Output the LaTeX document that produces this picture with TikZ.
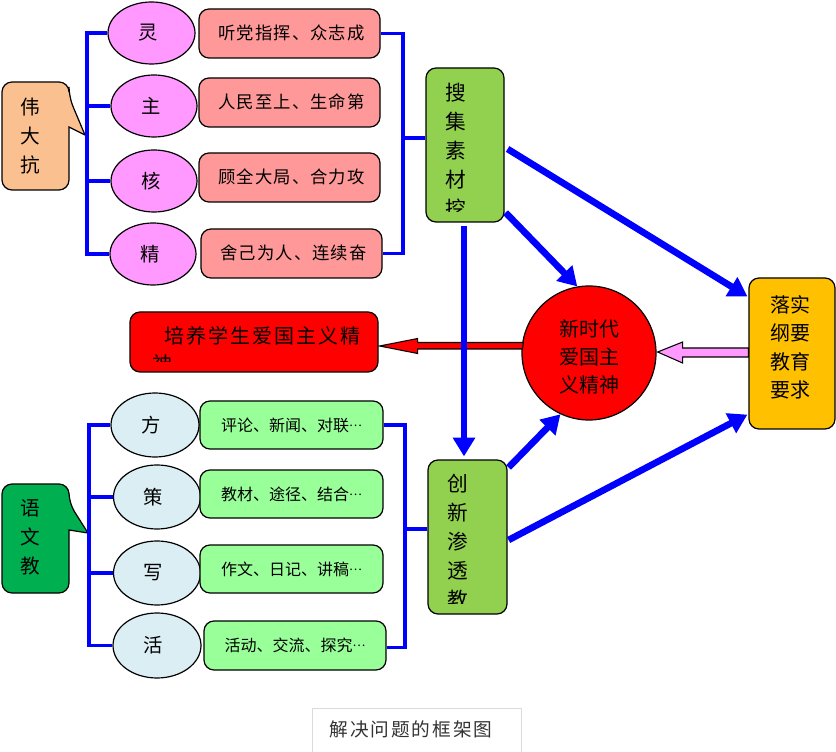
\documentclass[tikz,border=0pt]{standalone}
\usepackage{fontspec}
\newfontfamily\cjk{Noto Sans CJK SC}
\newfontfamily\cjkwide{Noto Sans CJK SC}[LetterSpace=6]
\newfontfamily\cjkmid{Noto Sans CJK SC}[LetterSpace=10]
\usetikzlibrary{arrows.meta,calc,shapes.geometric}
\definecolor{peach}{HTML}{FAC090}
\definecolor{violetE}{HTML}{FF99FF}
\definecolor{pinkB}{HTML}{FF9999}
\definecolor{greenB}{HTML}{92D050}
\definecolor{redC}{HTML}{FF0000}
\definecolor{yellowB}{HTML}{FFC000}
\definecolor{blueE}{HTML}{DAEEF3}
\definecolor{lgreenB}{HTML}{99FF99}
\definecolor{dgreen}{HTML}{00B050}
\definecolor{blueL}{HTML}{0000FF}
\definecolor{capgray}{HTML}{DADADA}
\definecolor{captext}{HTML}{333333}
\newcommand\middots{\raisebox{0.3em}{\fontsize{9pt}{9pt}\selectfont …}}
\begin{document}
\begin{tikzpicture}[x=0.75pt,y=-0.75pt,
  sz/.style 2 args={minimum width=#1*0.75pt, minimum height=#2*0.75pt, inner sep=0pt},
  rbox/.style={draw=black, line width=0.9pt, rounded corners=7.5pt},
  ell/.style={ellipse, draw=black, line width=0.9pt, inner sep=0pt},
  brk/.style={draw=blueL, line width=2.4pt},
  barr/.style={draw=blueL, line width=5pt, -{Triangle[length=14pt,width=16pt]}},
  blockarr/.style={draw=black, line width=0.8pt, line join=miter},
  tEll/.style={font=\cjk\fontsize{14.5pt}{16pt}\selectfont},
  tUp/.style={font=\cjkwide\fontsize{13pt}{15pt}\selectfont},
  tLow/.style={font=\cjk\fontsize{12pt}{14pt}\selectfont},
  tCall/.style={font=\cjk\fontsize{14.75pt}{21.75pt}\selectfont, align=center},
  tVert/.style={font=\cjk\fontsize{15.5pt}{21.75pt}\selectfont, align=center},
  tCirc/.style={font=\cjk\fontsize{15pt}{21pt}\selectfont, align=center},
  tYel/.style={font=\cjk\fontsize{15pt}{21.25pt}\selectfont, align=center},
  tBig/.style={font=\cjkmid\fontsize{15pt}{18pt}\selectfont}
]
\useasboundingbox (0,0) rectangle (836,752);

% ---------- upper group ----------
\path[draw=black, line width=0.9pt, fill=peach, rounded corners=7.5pt]
  (35,82) -- (69,82) -- (69,97) [sharp corners] -- (85,135) -- (69,127)
  [rounded corners=7.5pt] -- (69,190) -- (2,190) -- (2,82) -- cycle;
\node[tCall] (wei) at (30,136) {伟\\大\\抗};

\node[ell, fill=violetE, sz={87}{62}] (e1) at (151.5,33) {};
\node[ell, fill=violetE, sz={86}{62}] (e2) at (154,106) {};
\node[ell, fill=violetE, sz={86}{62}] (e3) at (154,181) {};
\node[ell, fill=violetE, sz={86}{62}] (e4) at (153,254) {};
\node[tEll] (e1t) at ($(e1)+(-3,0)$) {灵};
\node[tEll] (e2t) at ($(e2)+(-3,0)$) {主};
\node[tEll] (e3t) at ($(e3)+(-3,0)$) {核};
\node[tEll] (e4t) at ($(e4)+(-3,0)$) {精};

\node[rbox, fill=pinkB, sz={181}{49}] (p1) at (289.5,33.5) {};
\node[rbox, fill=pinkB, sz={181}{49}] (p2) at (289.5,102.5) {};
\node[rbox, fill=pinkB, sz={181}{49}] (p3) at (289.5,177.5) {};
\node[rbox, fill=pinkB, sz={181}{49}] (p4) at (291.5,253.5) {};
\node[tUp] (p1t) at ($(p1)+(2,-1)$) {听党指挥、众志成};
\node[tUp] (p2t) at ($(p2)+(2,-1)$) {人民至上、生命第};
\node[tUp] (p3t) at ($(p3)+(2,-1)$) {顾全大局、合力攻};
\node[tUp] (p4t) at ($(p4)+(2,-1)$) {舍己为人、连续奋};

\coordinate (lb1) at (87,0);
\draw[brk] (e1.west) -- (e1.west -| lb1) -- (e4.west -| lb1) -- (e4.west);
\draw[brk] (e2.west) -- (e2.west -| lb1);
\draw[brk] (e3.west) -- (e3.west -| lb1);

\node[rbox, fill=greenB, sz={78}{154}] (g1) at (465,145) {};
\begin{scope}
  \clip (g1.north west) rectangle ($(g1.south east)+(0,-11)$);
  \node[tVert] (g1t) at (456,151) {搜\\集\\素\\材\\挖};
\end{scope}

\coordinate (rb1) at (403,0);
\draw[brk] (p1.east) -- (p1.east -| rb1) -- (p4.east -| rb1) -- (p4.east);
\draw[brk] ($(g1.west)+(0,-7)$) -- ($(g1.west -| rb1)+(0,-7)$);

% ---------- lower group ----------
\path[draw=black, line width=0.9pt, fill=dgreen, rounded corners=7.5pt]
  (35,484) -- (69,484) -- (69,503) [sharp corners] -- (88,533) -- (69,530)
  [rounded corners=7.5pt] -- (69,593) -- (2,593) -- (2,484) -- cycle;
\node[tCall] (yu) at (30,537) {语\\文\\教};

\node[ell, fill=blueE, sz={88}{64}] (f1) at (155,425) {};
\node[ell, fill=blueE, sz={87}{64}] (f2) at (157,497) {};
\node[ell, fill=blueE, sz={87}{64}] (f3) at (157,573) {};
\node[ell, fill=blueE, sz={88}{65}] (f4) at (157,645.5) {};
\node[tEll] (f1t) at ($(f1)+(-4,0)$) {方};
\node[tEll] (f2t) at ($(f2)+(-4,0)$) {策};
\node[tEll] (f3t) at ($(f3)+(-4,0)$) {写};
\node[tEll] (f4t) at ($(f4)+(-4,0)$) {活};

\node[rbox, fill=lgreenB, sz={183}{48}] (q1) at (291.5,425) {};
\node[rbox, fill=lgreenB, sz={183}{48}] (q2) at (291.5,494) {};
\node[rbox, fill=lgreenB, sz={183}{48}] (q3) at (291.5,569) {};
\node[rbox, fill=lgreenB, sz={182}{49}] (q4) at (295,645.5) {};
\node[tLow] (q1t) at (q1) {评论、新闻、对联\middots};
\node[tLow] (q2t) at (q2) {教材、途径、结合\middots};
\node[tLow] (q3t) at (q3) {作文、日记、讲稿\middots};
\node[tLow] (q4t) at (q4) {活动、交流、探究\middots};

\coordinate (lb2) at (89,0);
\draw[brk] (f1.west) -- (f1.west -| lb2) -- (f4.west -| lb2) -- (f4.west);
\draw[brk] (f2.west) -- (f2.west -| lb2);
\draw[brk] (f3.west) -- (f3.west -| lb2);

\node[rbox, fill=greenB, sz={79}{154}] (g2) at (467.5,537) {};
\begin{scope}
  \clip (g2.north west) rectangle ($(g2.south east)+(0,-11)$);
  \node[tVert] (g2t) at (458,542) {创\\新\\渗\\透\\教};
\end{scope}

\coordinate (rb2) at (405,0);
\draw[brk] (q1.east) -- (q1.east -| rb2) -- ($(q4.east -| rb2)+(0,2)$) -- ($(q4.east)+(0,2)$);
\draw[brk] ($(g2.west)+(0,-8)$) -- ($(g2.west -| rb2)+(0,-8)$);

% ---------- centre / right ----------
\node[circle, draw=black, line width=0.9pt, fill=redC, minimum size=134*0.75pt, inner sep=0pt] (circ) at (589,353) {};
\node[tCirc] (circt) at (589,357) {新时代\\爱国主\\义精神};

\node[rbox, fill=yellowB, sz={86}{151}] (yel) at (792,353.5) {};
\node[tYel] (yelt) at (790,347.5) {落实\\纲要\\教育\\要求};

\node[rbox, fill=redC, sz={248}{60}] (pei) at (254,342) {};
\node[tBig, anchor=west] (peit) at (160,336) {培养学生爱国主义精};
\begin{scope}
  \clip (pei.north west) rectangle (378,362);
  \node[tBig, anchor=west] (peit2) at (148,364) {神};
\end{scope}

% block arrows
\draw[blockarr, fill=redC] ($(pei.east)+(1,4)$) coordinate (T1)
  -- ($(T1)+(38,-7.5)$) -- ($(T1)+(38,-3.5)$) -- ($(circ.west)+(2,-10.5)$)
  -- ($(circ.west)+(1,-4)$) -- ($(T1)+(38,3)$) -- ($(T1)+(38,7.5)$) -- cycle;
\draw[blockarr, fill=violetE] ($(circ.east)+(1,-1)$) coordinate (T2)
  -- ($(T2)+(25,-10)$) -- ($(T2)+(25,-4)$) -- ($(yel.west)+(0,-5.5)$)
  -- ($(yel.west)+(0,3.5)$) -- ($(T2)+(25,5)$) -- ($(T2)+(25,11)$) -- cycle;

% blue arrows
\draw[barr] ($(g1.east)+(3,4)$) -- ($(yel.north west)+(-1,19)$);
\draw[barr] ($(g1.south east)+(1,-10)$) -- (circ.100);
\draw[barr] ($(g1.south)+(-1,3)$) -- ($(g2.north -| g1.south)+(-1,-3)$);
\draw[barr] ($(g2.north east)+(1,8)$) -- (circ.245);
\draw[barr] ($(g2.east)+(1,3)$) -- ($(yel.south west)+(-1,-15)$);

% caption
\draw[capgray, line width=0.6pt] (312,752) -- (312,708) -- (521,708) -- (521,752);
\node[font=\cjkmid\fontsize{14pt}{16pt}\selectfont, text=captext] (cap) at (411,729) {解决问题的框架图};
\end{tikzpicture}
\end{document}
